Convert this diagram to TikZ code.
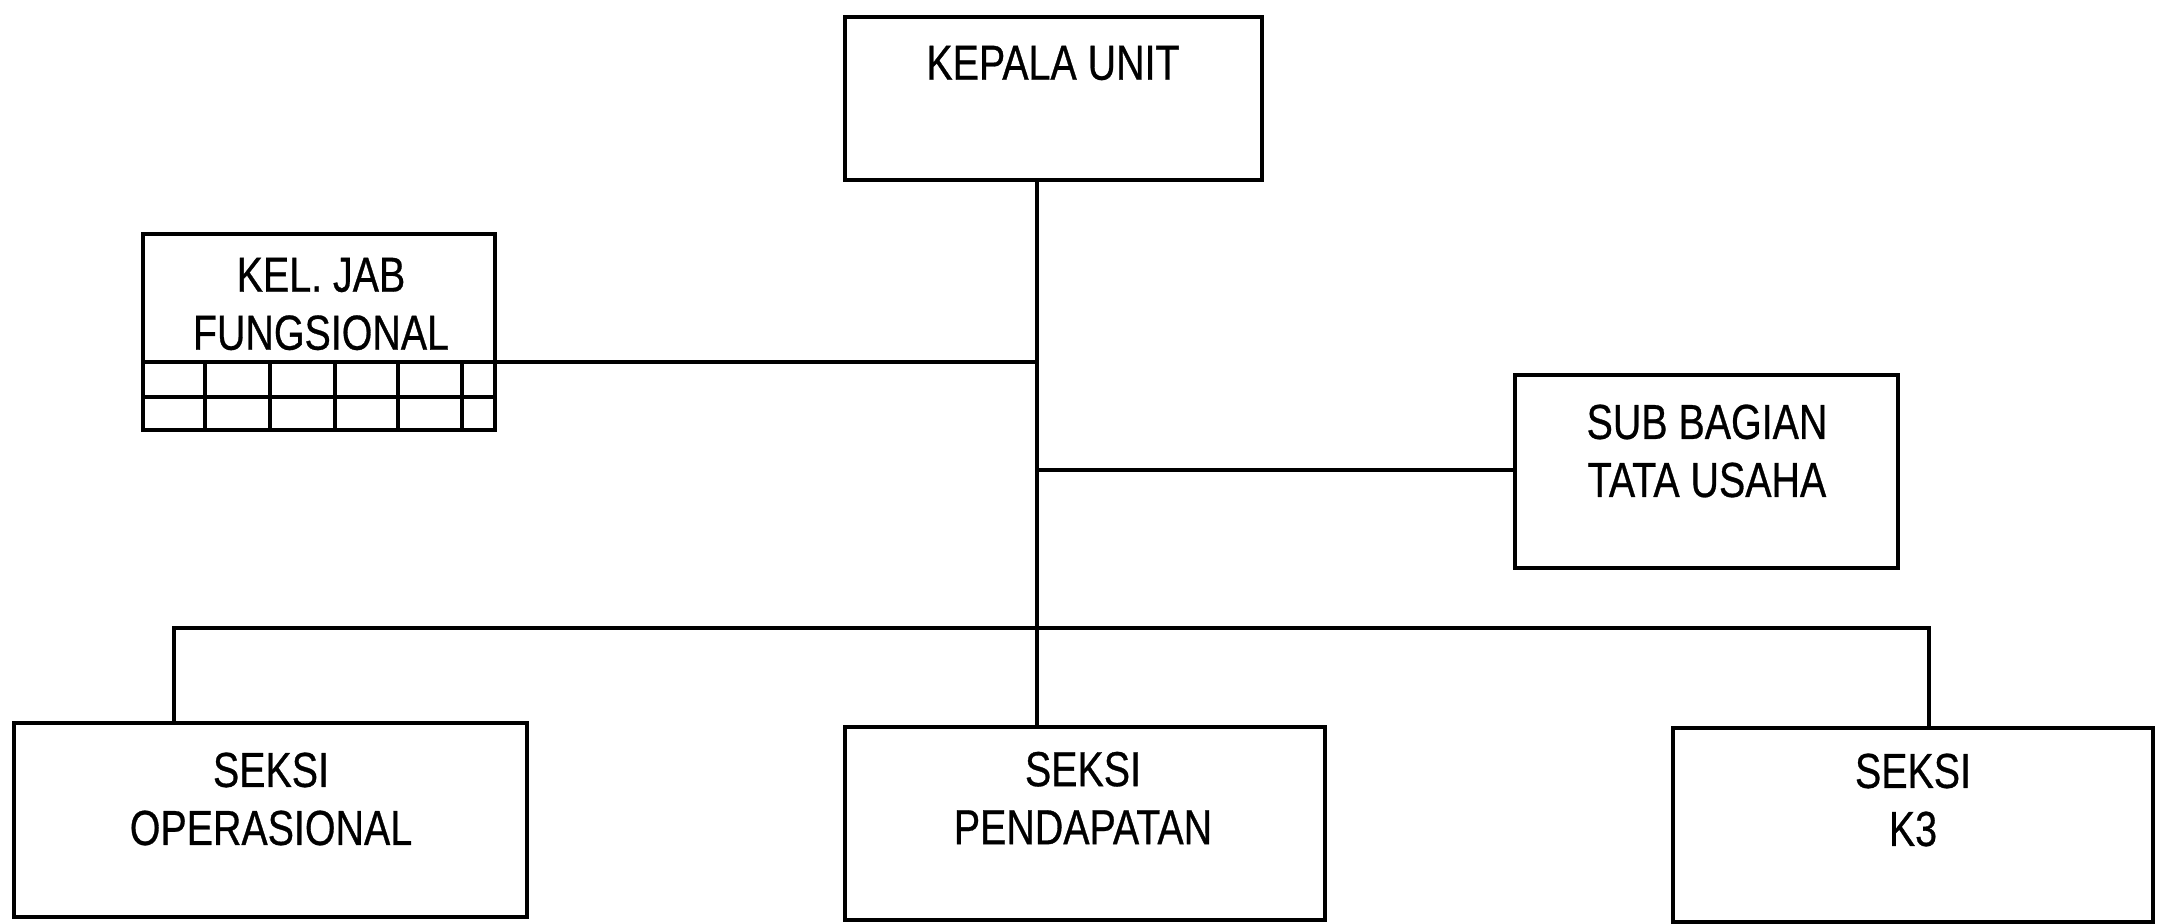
\documentclass[tikz,border=0pt]{standalone}
\usepackage{fontspec}
\setmainfont{Liberation Sans}[FakeStretch=0.8,FakeBold=0.6]
\begin{document}
\begin{tikzpicture}[x=0.01cm,y=-0.01cm,line width=1pt,
  box/.style={draw,rectangle,inner sep=0pt},
  lbl/.style={align=center,font=\fontsize{14}{16.5}\selectfont,inner sep=0pt}]
\useasboundingbox (0,0) rectangle (2168,924);
% boxes
\node[box,minimum width=4.17cm,minimum height=1.63cm] (kepala) at (1053.5,98.5) {};
\node[lbl] (tkepala) at (1053,63) {KEPALA UNIT};
\node[box,minimum width=3.52cm,minimum height=1.96cm] (kel) at (319,332) {};
\node[lbl] (tkel) at (321,304) {KEL. JAB\\FUNGSIONAL};
\node[box,minimum width=3.83cm,minimum height=1.93cm] (sub) at (1706.5,471.5) {};
\node[lbl] (tsub) at (1707,451) {SUB BAGIAN\\TATA USAHA};
\node[box,minimum width=5.13cm,minimum height=1.94cm] (oper) at (270.5,820) {};
\node[lbl] (toper) at (271,799) {SEKSI\\OPERASIONAL};
\node[box,minimum width=4.80cm,minimum height=1.93cm] (pend) at (1085,823.5) {};
\node[lbl] (tpend) at (1083,798) {SEKSI\\PENDAPATAN};
\node[box,minimum width=4.80cm,minimum height=1.94cm] (k3) at (1913,825) {};
\node[lbl] (tk3) at (1913,800) {SEKSI\\K3};
% grid inside KEL box
\draw (kel.west |- 0,362) -- (kel.east |- 0,362);
\draw (kel.west |- 0,397) -- (kel.east |- 0,397);
\foreach \gx in {205,270,335,398,462}
  \draw (\gx,362) -- (kel.south -| \gx,0);
% connectors
\coordinate (tk) at (1037,0);
\coordinate (jk) at (0,362);
\coordinate (bs) at (0,628);
\coordinate (ox) at (174,0);
\coordinate (kx) at (1929,0);
\draw (kepala.south -| tk) -- (pend.north -| tk);
\draw (kel.east |- jk) -- (jk -| tk);
\draw (sub.west |- 0,470) -- (tk |- 0,470);
\draw (oper.north -| ox) -- (ox |- bs) -- (kx |- bs) -- (k3.north -| kx);
\end{tikzpicture}
\end{document}
